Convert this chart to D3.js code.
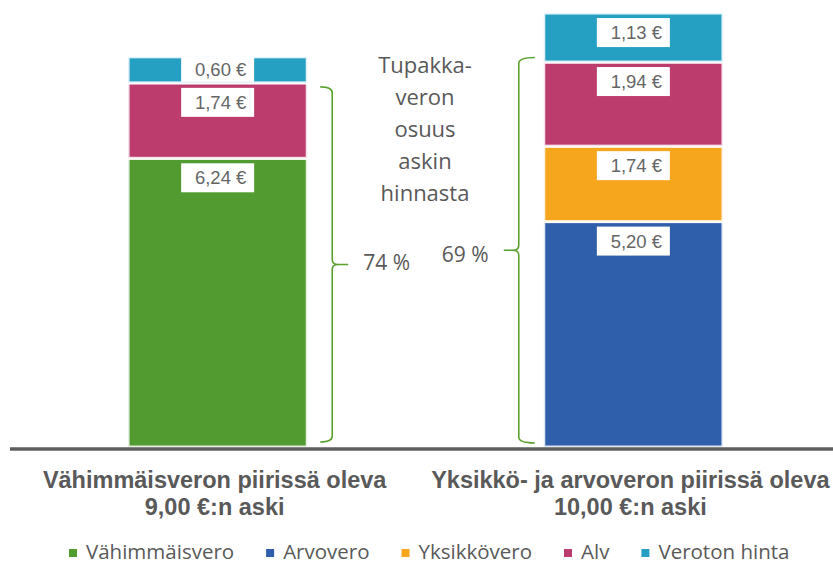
<!DOCTYPE html>
<html>
<head>
<meta charset="utf-8">
<script src="https://cdn.jsdelivr.net/npm/d3@7"></script>
<style>
  body { margin: 0; background: #fff; }
  svg { display: block; }
</style>
</head>
<body>
<div id="chart-area"></div>
<script>
// data
const categories = ["Vähimmäisveron piirissä oleva|9,00 €:n aski", "Yksikkö- ja arvoveron piirissä oleva|10,00 €:n aski"]
const seriesNames = ["Vähimmäisvero", "Arvovero", "Yksikkövero", "Alv", "Veroton hinta"]
const seriesColors = ["#529b30", "#2f5faa", "#f5a61d", "#bc3c6d", "#26a0c2"]
// value per series, per category (bar heights)
const vahimmaisvero = [6.66, 0]
const arvovero = [0, 5.20]
const yksikkovero = [0, 1.74]
const alv = [1.74, 1.94]
const verotonHinta = [0.60, 1.13]
// text printed in the label boxes (as in the original)
const labelTexts = [
  ["6,24 €", null, null, "1,74 €", "0,60 €"],
  [null, "5,20 €", "1,74 €", "1,94 €", "1,13 €"]
]
const shareLabels = ["74 %", "69 %"]
const bracketFrom = [8.40, 8.87]
const noteLines = ["Tupakka-", "veron", "osuus", "askin", "hinnasta"]

const WIDTH = 833, HEIGHT = 565
const GREY = "#5f5f5f"

const svg = d3.select("#chart-area").append("svg")
  .attr("width", WIDTH)
  .attr("height", HEIGHT)

// Scales
const x = d3.scaleBand()
  .domain(categories)
  .range([10, 841])
  .paddingInner(0.569)
  .paddingOuter(0.284)

const y = d3.scaleLinear()
  .domain([0, 10])
  .range([447, 13.5])

const seriesValues = [vahimmaisvero, arvovero, yksikkovero, alv, verotonHinta]
const table = categories.map((c, i) => {
  const row = { cat: c }
  seriesNames.forEach((s, j) => row[s] = seriesValues[j][i])
  return row
})
const stack = d3.stack().keys(seriesNames)(table)

// bars
const layers = svg.append("g").selectAll("g")
  .data(stack)
  .join("g")
    .attr("fill", (d, i) => seriesColors[i])

layers.selectAll("rect")
  .data(d => d.filter(p => p[1] - p[0] > 0))
  .join("rect")
    .attr("x", d => x(d.data.cat))
    .attr("width", x.bandwidth())
    .attr("y", d => y(d[1]))
    .attr("height", d => y(d[0]) - y(d[1]))
    .attr("stroke", "#fff")
    .attr("stroke-opacity", 0.85)
    .attr("stroke-width", 3)

// value labels (white boxes)
const labels = []
stack.forEach((layer, j) => {
  layer.forEach((p, i) => {
    const t = labelTexts[i][j]
    if (t && p[1] - p[0] > 0) labels.push({ cat: p.data.cat, top: y(p[1]), h: y(p[0]) - y(p[1]), text: t })
  })
})
const lab = svg.append("g").selectAll("g")
  .data(labels)
  .join("g")
    .attr("transform", d => {
      const cx = x(d.cat) + x.bandwidth() / 2
      const ty = d.h < 35 ? d.top : d.top + 5
      return `translate(${cx}, ${ty})`
    })
lab.append("rect")
  .attr("x", -36.5)
  .attr("width", 73)
  .attr("height", d => d.h < 35 ? d.h - 1 : 29)
  .attr("fill", "#fff")
lab.append("text")
  .attr("x", 3)
  .attr("y", d => d.h < 35 ? 19 : 21)
  .attr("text-anchor", "middle")
  .attr("font-family", "Liberation Sans, Arial, sans-serif")
  .attr("font-size", "18.5px")
  .attr("fill", "#666")
  .text(d => d.text)

// baseline
svg.append("line")
  .attr("x1", 10).attr("x2", WIDTH)
  .attr("y1", y(0) + 2).attr("y2", y(0) + 2)
  .attr("stroke", GREY)
  .attr("stroke-width", 3.5)

// braces
const BR = "#5aa02c"
function brace(xArm, xSpine, xTip, top, bot) {
  const mid = (top + bot) / 2
  const s = Math.sign(xTip - xSpine)
  return `M${xArm},${top} Q${xSpine},${top} ${xSpine},${top + 6}` +
    ` L${xSpine},${mid - 5} Q${xSpine},${mid} ${xSpine + 6 * s},${mid} L${xTip},${mid}` +
    ` M${xSpine + 6 * s},${mid} Q${xSpine},${mid} ${xSpine},${mid + 5}` +
    ` L${xSpine},${bot - 6} Q${xSpine},${bot} ${xArm},${bot}`
}
const x0 = x(categories[0]) + x.bandwidth()
const x1 = x(categories[1])
svg.append("path")
  .attr("d", brace(x0 + 13, x0 + 25, x0 + 41, y(bracketFrom[0]) + 4, y(0) - 5))
  .attr("fill", "none").attr("stroke", BR).attr("stroke-width", 1.6)
svg.append("path")
  .attr("d", brace(x1 - 9, x1 - 25, x1 - 40, y(bracketFrom[1]) - 5, y(0) - 4))
  .attr("fill", "none").attr("stroke", BR).attr("stroke-width", 1.6)

// share labels
const noteFont = "Open Sans, Noto Sans, sans-serif"
svg.append("text")
  .attr("x", x0 + 56).attr("y", 270)
  .attr("font-family", noteFont).attr("font-size", "21px").attr("fill", "#595959")
  .text(shareLabels[0])
svg.append("text")
  .attr("x", x1 - 102).attr("y", 262)
  .attr("font-family", noteFont).attr("font-size", "21px").attr("fill", "#595959")
  .text(shareLabels[1])

// note text
svg.append("text")
  .attr("text-anchor", "middle")
  .attr("font-family", noteFont).attr("font-size", "22px").attr("fill", "#595959")
  .selectAll("tspan")
  .data(noteLines)
  .join("tspan")
    .attr("x", 425)
    .attr("y", (d, i) => 73 + i * 32)
    .text(d => d)

// category labels
const catText = svg.append("g").selectAll("text")
  .data(categories)
  .join("text")
    .attr("text-anchor", "middle")
    .attr("font-family", "Liberation Sans, Arial, sans-serif")
    .attr("font-weight", "bold")
    .attr("font-size", "23.5px")
    .attr("fill", "#595959")
catText.selectAll("tspan")
  .data(d => d.split("|").map(t => ({ cat: d, t })))
  .join("tspan")
    .attr("x", d => x(d.cat) + x.bandwidth() / 2 - 3)
    .attr("y", (d, i) => 488 + i * 27)
    .text(d => d.t)

// legend
const legend = svg.append("g").attr("class", "legend")
let lx = 69
seriesNames.forEach((s, i) => {
  legend.append("rect")
    .attr("x", lx).attr("y", 549)
    .attr("width", 8).attr("height", 8)
    .attr("fill", seriesColors[i])
  const t = legend.append("text")
    .attr("x", lx + 17).attr("y", 559)
    .attr("font-family", noteFont).attr("font-size", "20.5px").attr("fill", "#595959")
    .text(s)
  lx += 17 + t.node().getComputedTextLength() + 32
})
</script>
</body>
</html>
